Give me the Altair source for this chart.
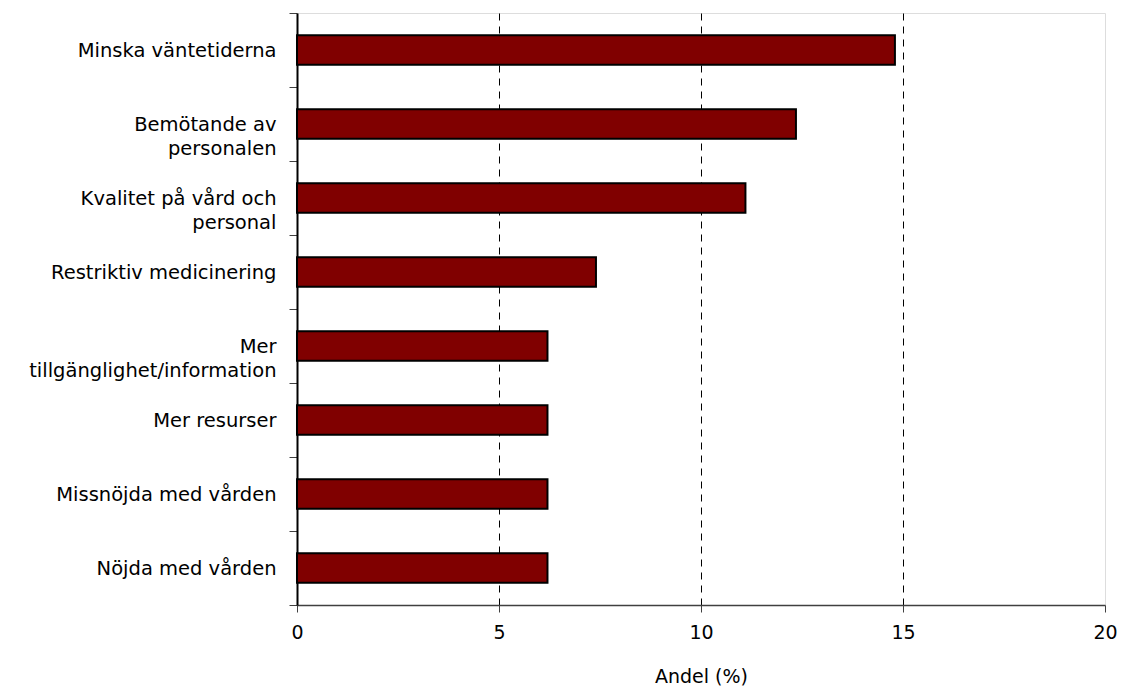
import altair as alt
import pandas as pd

categories = [
    "Minska väntetiderna",
    "Bemötande av\npersonalen",
    "Kvalitet på vård och\npersonal",
    "Restriktiv medicinering",
    "Mer\ntillgänglighet/information",
    "Mer resurser",
    "Missnöjda med vården",
    "Nöjda med vården",
]
values = [14.8, 12.35, 11.1, 7.4, 6.2, 6.2, 6.2, 6.2]

df = pd.DataFrame({"kategori": categories, "andel": values})

FONT = "DejaVu Sans"

chart = (
    alt.Chart(df)
    .mark_bar(color="#800000", stroke="#000000", strokeWidth=2, height={"band": 0.4})
    .encode(
        x=alt.X(
            "andel:Q",
            scale=alt.Scale(domain=[0, 20], nice=False),
            axis=alt.Axis(
                title="Andel (%)",
                values=[0, 5, 10, 15, 20],
                format="d",
                grid=True,
                gridColor="#000000",
                gridDash=[7, 6],
                gridWidth=1,
                gridOpacity={"expr": "datum.value == 0 || datum.value == 20 ? 0 : 1"},
                domainColor="#404040",
                domainWidth=1.5,
                tickColor="#404040",
                tickSize=7,
                labelFont=FONT,
                labelFontSize=19,
                labelColor="#000000",
                labelPadding=11,
                labelFlush=False,
                titleFont=FONT,
                titleFontSize=19,
                titleFontWeight="normal",
                titleColor="#000000",
                titlePadding=25,
            ),
        ),
        y=alt.Y(
            "kategori:N",
            sort=None,
            scale=alt.Scale(paddingInner=0, paddingOuter=0),
            axis=alt.Axis(
                title=None,
                tickBand="extent",
                domainColor="#000000",
                domainWidth=2,
                tickColor="#404040",
                tickSize=8,
                labelFont=FONT,
                labelFontSize=19.5,
                labelColor="#000000",
                labelPadding=13,
                labelLineHeight=24,
                labelExpr="split(datum.label, '\\n')",
                labelLimit=400,
            ),
        ),
    )
    .properties(
        width=808,
        height=592,
        autosize=alt.AutoSizeParams(type="none"),
        padding={"left": 297, "top": 13, "right": 17, "bottom": 85},
    )
    .configure_view(stroke="#808080", strokeWidth=2)
    .configure(background="#ffffff")
)

chart.save("out.html", embed_options={"renderer": "svg", "actions": False})
